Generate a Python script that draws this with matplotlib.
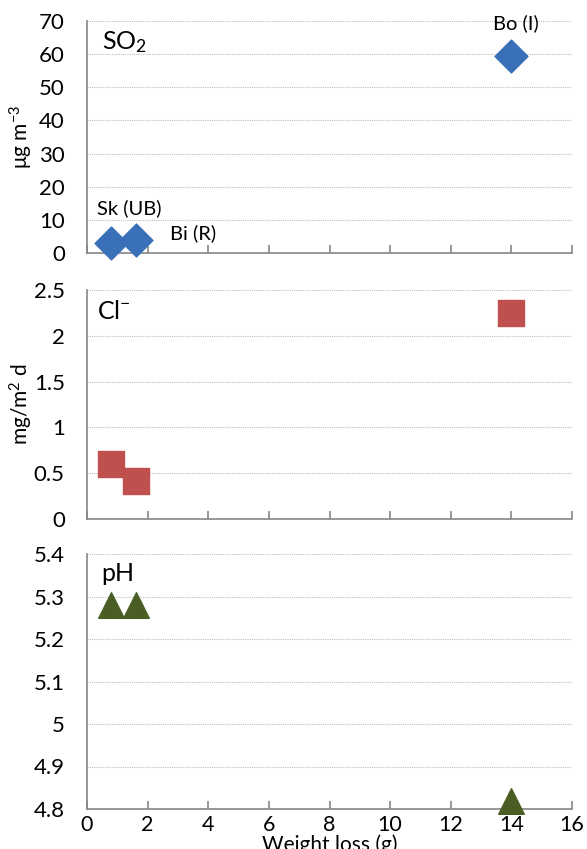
import matplotlib
matplotlib.use('Agg')
import matplotlib.pyplot as plt

# data
weight_loss = [0.8, 1.6, 14.0]
so2 = [3.0, 4.0, 59.5]
chloride = [0.6, 0.42, 2.25]
ph = [5.28, 5.28, 4.82]
site_labels = ['Sk (UB)', 'Bi (R)', 'Bo (I)']

plt.rcParams['font.family'] = ['Lato', 'DejaVu Sans']
plt.rcParams['font.size'] = 15
plt.rcParams['mathtext.fontset'] = 'custom'
plt.rcParams['mathtext.rm'] = 'Lato'
plt.rcParams['mathtext.it'] = 'Lato:italic'
plt.rcParams['mathtext.bf'] = 'Lato:bold'

fig = plt.figure(figsize=(5.87, 8.49), dpi=100)
W, H = 587.0, 849.0

def make_axes(top, bottom):
    return fig.add_axes([87 / W, 1 - bottom / H, 485 / W, (bottom - top) / H])

ax1 = make_axes(21, 253)
ax2 = make_axes(290, 519)
ax3 = make_axes(554, 809)

gray = '#868686'
for ax in (ax1, ax2, ax3):
    ax.set_xlim(0, 16)
    ax.set_xticks(range(0, 17, 2))
    for s in ('top', 'right'):
        ax.spines[s].set_visible(False)
    for s in ('left', 'bottom'):
        ax.spines[s].set_color(gray)
        ax.spines[s].set_linewidth(1.2)
    ax.tick_params(axis='x', direction='in', length=6, color=gray, width=1.2, pad=4, labelsize=15.5)
    ax.tick_params(axis='y', length=0, pad=16, labelsize=16)
    ax.grid(axis='y', linestyle=(0, (1, 1)), color='#BFBFBF', linewidth=0.8)
    ax.set_axisbelow(True)

# SO2
ax1.scatter(weight_loss, so2, marker='D', s=280, color='#3A70B8', zorder=3, clip_on=False)
ax1.set_ylim(0, 70)
ax1.set_yticks(range(0, 71, 10))
ax1.tick_params(axis='x', labelbottom=False)
ax1.set_ylabel('μg m$^{\\mathrm{-3}}$', fontsize=15)
ax1.text(0.5, 63.5, 'SO$_2$', fontsize=18, va='center')
ax1.text(1.4, 13.6, site_labels[0], fontsize=14.5, ha='center', va='center')
ax1.text(3.5, 6.0, site_labels[1], fontsize=14.5, ha='center', va='center')
ax1.text(14.15, 69.4, site_labels[2], fontsize=14.5, ha='center', va='center')

# chloride
ax2.scatter(weight_loss, chloride, marker='s', s=360, color='#C0504D', zorder=3, clip_on=False)
ax2.set_ylim(0, 2.5)
ax2.set_yticks([0, 0.5, 1, 1.5, 2, 2.5])
ax2.set_yticklabels(['0', '0.5', '1', '1.5', '2', '2.5'])
ax2.tick_params(axis='x', labelbottom=False)
ax2.set_ylabel('mg/m$^2$ d', fontsize=15)
ax2.text(0.33, 2.26, 'Cl$^{\\mathrm{-}}$', fontsize=18, va='center')

# pH
ax3.scatter(weight_loss, ph, marker='^', s=340, color='#4A5E23', zorder=3, clip_on=False)
ax3.set_ylim(4.8, 5.4)
ax3.set_yticks([4.8, 4.9, 5.0, 5.1, 5.2, 5.3, 5.4])
ax3.set_yticklabels(['4.8', '4.9', '5', '5.1', '5.2', '5.3', '5.4'])
ax3.set_xlabel('Weight loss (g)', fontsize=15, labelpad=0)
ax3.text(0.46, 5.353, 'pH', fontsize=18, va='center')

for ax in (ax1, ax2):
    ax.yaxis.set_label_coords(-0.108, 0.5)

fig.savefig('out.png', dpi=100)
